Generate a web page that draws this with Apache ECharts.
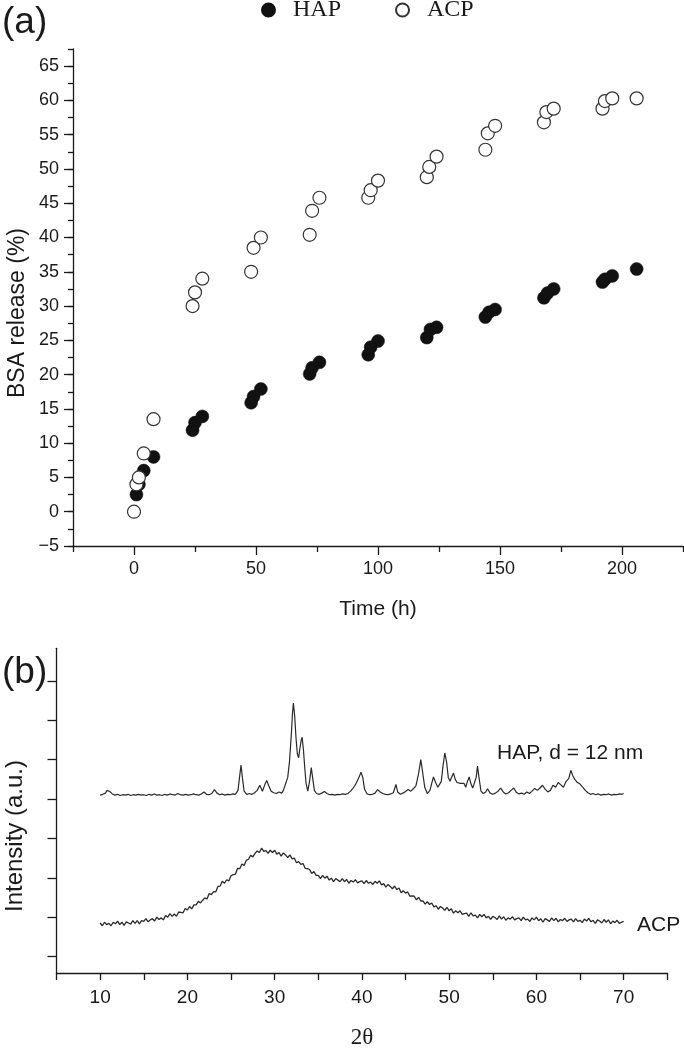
<!DOCTYPE html>
<html><head><meta charset="utf-8">
<script src="https://cdn.jsdelivr.net/npm/echarts@6/dist/echarts.min.js"></script>
<style>html,body{margin:0;padding:0;background:#fff}#c{width:684px;height:1050px}</style>
</head><body><div id="c"></div>
<script>
// ---- Panel (a): BSA release ----
const hapTime = [1, 2, 4, 8, 24, 25, 28, 48, 49, 52, 72, 73, 76, 96, 97, 100, 120, 121.5, 124, 144, 145.5, 148, 168, 169.5, 172, 192, 193, 196, 206];
const hapRelease = [2.5, 4, 6, 8, 11.9, 13, 13.9, 15.9, 16.8, 17.9, 20.1, 21, 21.8, 22.9, 24, 24.9, 25.4, 26.6, 26.9, 28.4, 29.1, 29.5, 31.2, 31.9, 32.5, 33.5, 33.9, 34.4, 35.4];
const acpTime = [0, 1, 2, 4, 8, 24, 25, 28, 48, 49, 52, 72, 73, 76, 96, 97, 100, 120, 121, 124, 144, 145, 148, 168, 169, 172, 192, 193, 196, 206];
const acpRelease = [0, 4, 5, 8.5, 13.5, 30, 32, 34, 35, 38.5, 40, 40.4, 43.9, 45.8, 45.8, 46.9, 48.3, 48.8, 50.3, 51.8, 52.8, 55.2, 56.3, 56.8, 58.3, 58.8, 58.8, 59.9, 60.3, 60.3];
const timeMajorTicks = [0, 50, 100, 150, 200];
const timeMinorTicks = [-25, 25, 75, 125, 175, 225];
const releaseMajorTicks = [-5, 0, 5, 10, 15, 20, 25, 30, 35, 40, 45, 50, 55, 60, 65];

// ---- Panel (b): XRD ----
const hapXrd = [
[10.0,5.10],[10.3,5.12],[10.6,5.15],[10.8,5.22],[10.95,5.26],[11.1,5.19],[11.4,5.13],[11.7,5.10],[12.0,5.12],[12.3,5.09],
[12.6,5.11],[12.9,5.10],[13.2,5.12],[13.5,5.09],[13.8,5.11],[14.1,5.10],[14.4,5.12],[14.7,5.10],[15.0,5.11],[15.3,5.09],
[15.6,5.12],[15.9,5.10],[16.2,5.13],[16.5,5.10],[16.8,5.11],[17.1,5.09],[17.4,5.12],[17.7,5.10],[18.0,5.13],[18.3,5.11],
[18.6,5.10],[18.9,5.14],[19.2,5.11],[19.5,5.10],[19.8,5.12],[20.1,5.10],[20.4,5.11],[20.7,5.13],[21.0,5.11],[21.3,5.10],
[21.6,5.13],[21.9,5.18],[22.2,5.12],[22.5,5.11],[22.8,5.14],[23.1,5.24],[23.4,5.15],[23.7,5.11],[24.0,5.13],[24.3,5.10],
[24.6,5.12],[24.9,5.11],[25.2,5.13],[25.5,5.12],[25.8,5.22],[26.0,5.60],[26.15,5.86],[26.3,5.55],[26.5,5.20],[26.8,5.12],
[27.1,5.14],[27.4,5.12],[27.7,5.16],[28.0,5.22],[28.3,5.35],[28.6,5.20],[28.9,5.38],[29.1,5.47],[29.3,5.35],[29.6,5.20],
[29.9,5.16],[30.2,5.14],[30.5,5.18],[30.8,5.15],[31.0,5.22],[31.2,5.35],[31.5,5.55],[31.7,5.95],[31.9,6.60],[32.05,7.20],
[32.15,7.44],[32.3,7.10],[32.45,6.55],[32.6,6.15],[32.75,6.05],[32.9,6.30],[33.05,6.50],[33.15,6.57],[33.3,6.25],[33.45,5.80],
[33.6,5.40],[33.8,5.20],[34.0,5.45],[34.2,5.80],[34.35,5.55],[34.55,5.22],[34.8,5.14],[35.1,5.12],[35.4,5.15],[35.7,5.19],
[36.0,5.14],[36.3,5.11],[36.6,5.12],[36.9,5.10],[37.2,5.12],[37.5,5.11],[37.8,5.13],[38.1,5.12],[38.4,5.14],[38.7,5.20],
[39.0,5.28],[39.3,5.38],[39.6,5.52],[39.9,5.68],[40.1,5.55],[40.3,5.25],[40.6,5.13],[40.9,5.11],[41.2,5.12],[41.5,5.15],
[41.8,5.24],[42.1,5.18],[42.4,5.14],[42.7,5.12],[43.0,5.11],[43.3,5.13],[43.6,5.16],[43.9,5.37],[44.1,5.18],[44.4,5.12],
[44.7,5.15],[45.0,5.19],[45.3,5.24],[45.6,5.20],[45.9,5.26],[46.2,5.34],[46.5,5.65],[46.75,6.00],[46.95,5.70],[47.2,5.30],
[47.5,5.14],[47.8,5.22],[48.0,5.40],[48.2,5.56],[48.45,5.42],[48.7,5.30],[48.9,5.28],[49.1,5.45],[49.3,5.85],[49.5,6.17],
[49.7,5.95],[49.9,5.55],[50.1,5.45],[50.3,5.56],[50.5,5.66],[50.7,5.50],[50.9,5.42],[51.1,5.47],[51.3,5.40],[51.5,5.35],
[51.7,5.40],[51.9,5.30],[52.1,5.45],[52.3,5.56],[52.5,5.38],[52.7,5.28],[52.9,5.30],[53.1,5.55],[53.25,5.84],[53.45,5.50],
[53.65,5.20],[53.9,5.14],[54.2,5.18],[54.4,5.26],[54.7,5.15],[55.0,5.12],[55.3,5.15],[55.6,5.20],[55.9,5.28],[56.2,5.18],
[56.5,5.13],[56.8,5.16],[57.1,5.22],[57.4,5.28],[57.7,5.17],[58.0,5.13],[58.3,5.15],[58.6,5.12],[58.9,5.18],[59.2,5.14],
[59.5,5.20],[59.8,5.27],[60.1,5.22],[60.4,5.28],[60.7,5.35],[61.0,5.25],[61.3,5.18],[61.6,5.22],[61.9,5.35],[62.2,5.30],
[62.5,5.42],[62.8,5.36],[63.1,5.30],[63.4,5.45],[63.7,5.52],[63.95,5.73],[64.15,5.60],[64.4,5.50],[64.7,5.42],[65.0,5.38],
[65.3,5.30],[65.6,5.22],[65.9,5.16],[66.2,5.12],[66.5,5.14],[66.8,5.11],[67.1,5.13],[67.4,5.10],[67.7,5.12],[68.0,5.11],
[68.3,5.13],[68.6,5.10],[68.9,5.12],[69.2,5.11],[69.5,5.13],[69.8,5.12],[70.0,5.14]
];
const acpXrdStart = 10, acpXrdStep = 0.25;
const acpXrd = [
1.85,1.78,1.87,1.81,1.84,1.78,1.87,1.83,1.90,1.81,1.87,1.79,1.88,1.85,1.82,1.91,1.84,1.91,1.83,1.91,
1.89,1.96,1.88,1.93,1.96,1.90,2.00,1.94,1.98,1.93,2.04,2.00,2.09,2.02,2.08,2.02,2.13,2.12,2.11,2.22,
2.18,2.27,2.21,2.31,2.31,2.40,2.36,2.43,2.49,2.46,2.60,2.57,2.65,2.64,2.78,2.79,2.91,2.86,2.95,2.92,
3.05,3.08,3.09,3.24,3.23,3.35,3.31,3.44,3.47,3.57,3.53,3.62,3.68,3.64,3.75,3.67,3.69,3.62,3.70,3.64,
3.70,3.60,3.64,3.55,3.63,3.58,3.51,3.58,3.48,3.50,3.38,3.41,3.34,3.36,3.24,3.23,3.21,3.11,3.16,3.06,
3.06,2.98,3.06,2.99,3.04,2.94,2.99,2.90,2.98,2.94,2.90,2.98,2.90,2.96,2.86,2.93,2.89,2.95,2.87,2.90,
2.92,2.85,2.93,2.86,2.89,2.83,2.91,2.86,2.92,2.82,2.85,2.76,2.83,2.78,2.72,2.79,2.70,2.74,2.62,2.67,
2.61,2.64,2.53,2.54,2.53,2.44,2.50,2.41,2.41,2.33,2.39,2.32,2.36,2.26,2.29,2.20,2.27,2.23,2.17,2.25,
2.16,2.21,2.10,2.16,2.11,2.16,2.07,2.09,2.10,2.02,2.11,2.03,2.05,1.98,2.07,2.01,2.07,1.98,2.02,1.94,
2.02,1.99,1.94,2.03,1.95,2.01,1.92,1.98,1.95,2.01,1.93,1.96,1.98,1.91,2.00,1.93,1.95,1.89,1.98,1.93,
2.00,1.91,1.96,1.87,1.96,1.93,1.89,1.98,1.91,1.97,1.88,1.94,1.91,1.97,1.89,1.93,1.95,1.88,1.96,1.89,
1.92,1.86,1.95,1.90,1.97,1.88,1.92,1.84,1.93,1.90,1.85,1.94,1.87,1.93,1.83,1.90,1.86,1.92,1.84,1.87,
1.89
];
const thetaMajorTicks = [10, 20, 30, 40, 50, 60, 70];
const intensityTicks = [1, 2, 3, 4, 5, 6, 7, 8];

const INK = '#1a1a1a';
const SANS = '"Liberation Sans", Arial, sans-serif';
const SERIF = '"Liberation Serif", "Times New Roman", serif';
const lineStyle = {color: INK, width: 1.3};

const chart = echarts.init(document.getElementById('c'), null, {renderer: 'canvas'});
chart.setOption({
  animation: false,
  backgroundColor: '#fff',
  textStyle: {fontFamily: SANS, color: INK},
  legend: {
    data: ['HAP', 'ACP'], top: -2, left: 261, padding: 0,
    itemWidth: 13, itemHeight: 13, itemGap: 54, icon: 'circle',
    textStyle: {fontFamily: SERIF, fontSize: 24, color: INK, padding: [0, 0, 0, 13]}
  },
  grid: [
    {left: 73, right: 1, top: 49, bottom: 504},
    {left: 56.5, right: 16.7, top: 648.3, bottom: 71}
  ],
  xAxis: [
    {gridIndex: 0, type: 'value', min: -25, max: 225, position: 'bottom',
     axisLine: {onZero: false, lineStyle}, axisTick: {customValues: timeMinorTicks, length: 6, lineStyle},
     axisLabel: {show: false}, splitLine: {show: false}},
    {gridIndex: 0, type: 'value', min: -25, max: 225, position: 'bottom',
     axisLine: {show: false, onZero: false}, axisTick: {customValues: timeMajorTicks, length: 9, lineStyle},
     axisLabel: {customValues: timeMajorTicks, fontSize: 18, color: INK, margin: 14},
     splitLine: {show: false},
     name: 'Time (h)', nameLocation: 'middle', nameGap: 53,
     nameTextStyle: {fontSize: 21, color: INK}},
    {gridIndex: 1, type: 'value', min: 5, max: 75, interval: 5, position: 'bottom',
     axisLine: {onZero: false, lineStyle}, axisTick: {length: 7, lineStyle},
     axisLabel: {customValues: thetaMajorTicks, fontSize: 19, color: INK, margin: 15},
     splitLine: {show: false},
     name: '2\u03b8', nameLocation: 'middle', nameGap: 53,
     nameTextStyle: {fontFamily: SERIF, fontSize: 23, color: INK}}
  ],
  yAxis: [
    {gridIndex: 0, type: 'value', min: -5, max: 67.5, interval: 2.5, position: 'left',
     axisLine: {onZero: false, lineStyle}, axisTick: {length: 5, lineStyle},
     axisLabel: {show: false}, splitLine: {show: false}},
    {gridIndex: 0, type: 'value', min: -5, max: 67.5, position: 'left',
     axisLine: {show: false, onZero: false}, axisTick: {customValues: releaseMajorTicks, length: 9, lineStyle},
     axisLabel: {customValues: releaseMajorTicks, fontSize: 18, color: INK, margin: 14,
       formatter: v => (v < 0 ? '\u2212' + Math.abs(v) : String(v))},
     splitLine: {show: false}},
    {gridIndex: 1, type: 'value', min: 0.58, max: 8.83, position: 'left',
     axisLine: {onZero: false, lineStyle}, axisTick: {customValues: intensityTicks, length: 9, lineStyle},
     axisLabel: {show: false}, splitLine: {show: false}}
  ],
  series: [
    {name: 'HAP', type: 'scatter', xAxisIndex: 0, yAxisIndex: 0, symbol: 'circle', symbolSize: 13,
     itemStyle: {color: '#111', borderColor: '#111', borderWidth: 0.5, opacity: 1},
     data: hapTime.map((t, i) => [t, hapRelease[i]])},
    {name: 'ACP', type: 'scatter', xAxisIndex: 0, yAxisIndex: 0, symbol: 'circle', symbolSize: 13,
     itemStyle: {color: '#fff', borderColor: '#333', borderWidth: 1.2, opacity: 1},
     data: acpTime.map((t, i) => [t, acpRelease[i]])},
    {name: 'HAP XRD', type: 'line', xAxisIndex: 2, yAxisIndex: 2, showSymbol: false,
     lineStyle: {color: '#2a2a2a', width: 1.2}, data: hapXrd},
    {name: 'ACP XRD', type: 'line', xAxisIndex: 2, yAxisIndex: 2, showSymbol: false,
     lineStyle: {color: '#2a2a2a', width: 1.3},
     data: acpXrd.map((v, i) => [acpXrdStart + acpXrdStep * i, v])}
  ],
  graphic: [
    {type: 'text', x: 2, y: 23, style: {text: '(a)', fontFamily: SANS, fontSize: 37, fill: INK, align: 'left', verticalAlign: 'middle'}},
    {type: 'text', x: 2, y: 673, style: {text: '(b)', fontFamily: SANS, fontSize: 37, fill: INK, align: 'left', verticalAlign: 'middle'}},
    {type: 'text', x: 18, y: 313, rotation: Math.PI / 2, style: {text: 'BSA release (%)', fontFamily: SANS, fontSize: 23, fill: INK, align: 'center', verticalAlign: 'middle'}},
    {type: 'text', x: 15, y: 836, rotation: Math.PI / 2, style: {text: 'Intensity (a.u.)', fontFamily: SANS, fontSize: 24, fill: INK, align: 'center', verticalAlign: 'middle'}},
    {type: 'text', x: 497, y: 753, style: {text: 'HAP, d = 12 nm', fontFamily: SANS, fontSize: 21, fill: INK, align: 'left', verticalAlign: 'middle'}},
    {type: 'text', x: 637, y: 925, style: {text: 'ACP', fontFamily: SANS, fontSize: 21, fill: INK, align: 'left', verticalAlign: 'middle'}}
  ]
});
</script>
</body></html>
